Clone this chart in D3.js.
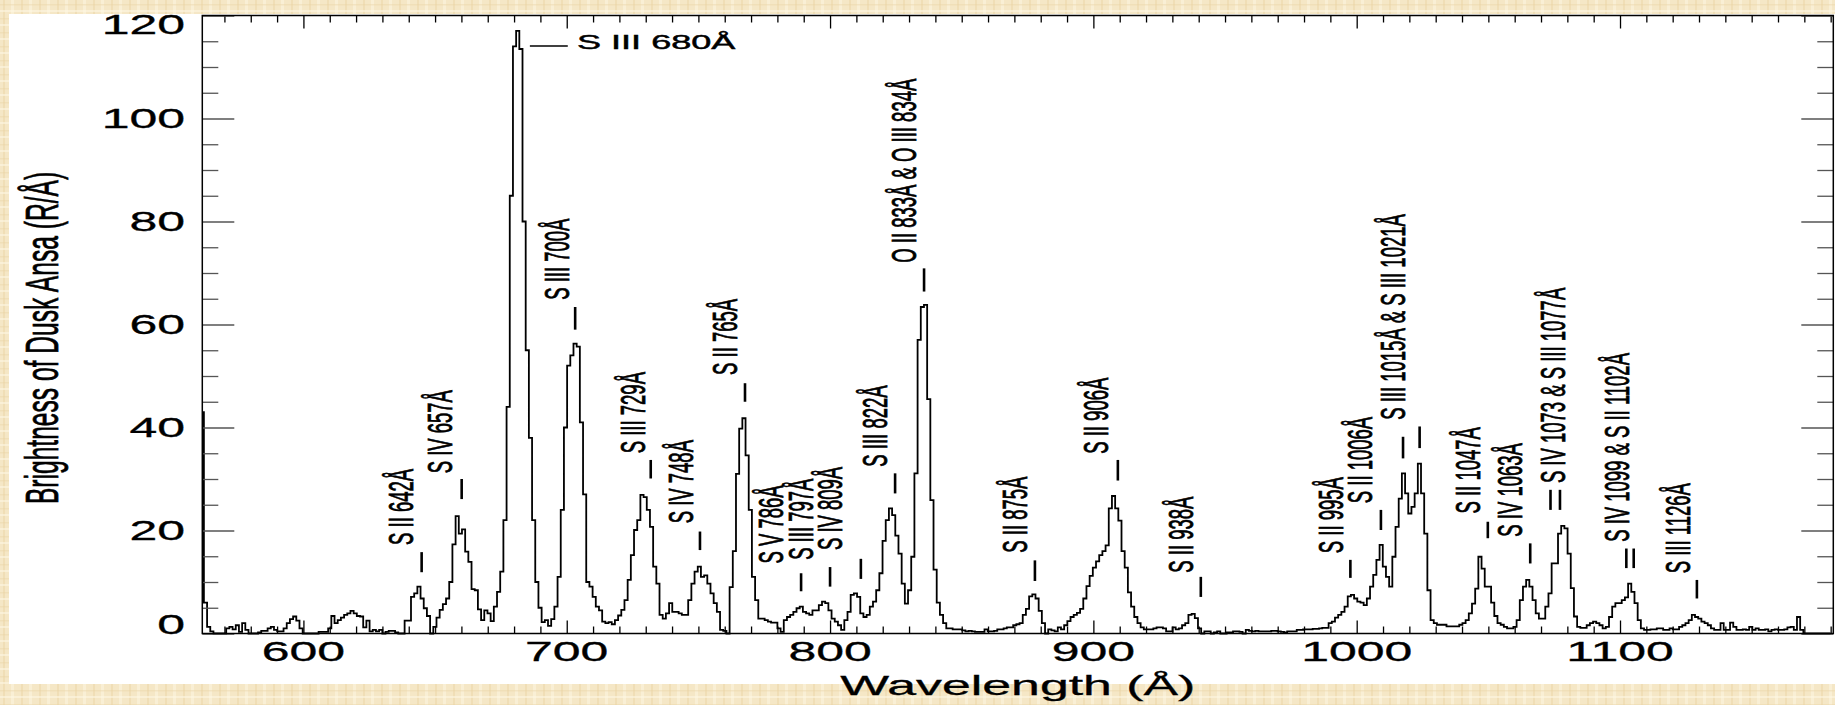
<!DOCTYPE html>
<html><head><meta charset="utf-8">
<script src="https://cdn.jsdelivr.net/npm/d3@7"></script>
<style>
html,body{margin:0;padding:0;background:#f5e8c8;}
svg{display:block;}
text{font-family:"Liberation Sans",Arial,Helvetica,sans-serif;fill:#000;}
</style></head><body>
<svg id="chart" width="1835" height="705"></svg>
<script>
// ---- spectrum: EUV brightness of the dusk ansa, one value per 1.21 Å bin ----
const waveStart = 561.6;   // Å, first bin
const waveStep = 1.21;     // Å per bin
const brightness = [
  43, 6.0, 1.3, 0.4, 0, 0, 0, 0, 1.0, 1.3,
  0.8, 1.6, 0.3, 2.0, 0.7, 0, 0, 0, 0.2, 0.5,
  0.5, 1.0, 1.3, 0.7, 0.4, 0.4, 1.0, 2.0, 2.8, 3.3,
  2.5, 1.0, 0, 0, 0, 0, 0, 0.3, 0.3, 0.3,
  1.0, 3.4, 2.0, 2.6, 3.1, 3.6, 3.9, 4.4, 3.9, 3.4,
  3.3, 1.2, 2.5, 0.4, 0.7, 0.4, 0.7, 0, 0.3, 0.5,
  0.5, 0.2, 0, 0, 2.5, 2.5, 7.1, 7.8, 9.1, 6.8,
  4.9, 3.4, 0, 1.3, 3.1, 4.6, 5.7, 6.8, 10, 17.3,
  22.8, 19.4, 20.2, 15.9, 13.9, 8.6, 8.4, 4.7, 2.6, 4.5,
  3.9, 2.4, 5.2, 8.1, 12, 22, 44, 85, 114, 117,
  113.5, 80, 55, 38, 22, 10, 5, 2.2, 2.6, 1.5,
  2.8, 5.2, 11, 24, 40, 52, 54, 56.3, 55.7, 41,
  27, 10, 9.1, 7.1, 5.2, 4.5, 2.3, 2.0, 2.2, 1.8,
  2.6, 3.5, 4.6, 6.5, 10.4, 15.2, 20.1, 22, 26.9, 26.5,
  24, 20.7, 13, 9.7, 3.6, 2.9, 3.9, 5.9, 4.2, 4.2,
  3.9, 3.6, 3.6, 6.5, 9.7, 12, 13, 11, 11.3, 9.7,
  7.8, 5.9, 4.2, 0.7, 0.5, 0, 9, 16, 31, 39.8,
  41.8, 34.6, 24, 11, 6.5, 2.9, 2.9, 2.6, 2.3, 2.1,
  2.1, 1.0, 0.3, 2.6, 3.2, 3.6, 4.2, 4.9, 5.2, 4.2,
  3.9, 3.6, 4.5, 4.5, 5.5, 6.2, 5.9, 4.5, 2.9, 2.3,
  1.6, 0.7, 2.6, 4.2, 7.5, 7.8, 7.1, 3.9, 3.2, 3.6,
  5.2, 6.2, 8.4, 11.7, 18, 22, 24.3, 23, 19, 15.5,
  9.7, 5.8, 8.4, 14.9, 31.1, 57, 63.4, 63.8, 45.5, 25.9,
  12.4, 6, 3.6, 2.0, 1.0, 1.0, 0.8, 0.8, 0.8, 0.6,
  0.4, 0.5, 0.4, 0.3, 0.3, 0.3, 0.8, 0.4, 0.4, 0.5,
  0.8, 0.8, 1.0, 1.2, 1.2, 1.6, 1.8, 2.0, 3.6, 4.8,
  7.2, 7.6, 6.8, 4.4, 2.0, 0, 0.8, 0.6, 0.4, 1.2,
  0.8, 1.6, 2.4, 3.2, 3.6, 4.0, 4.8, 6.8, 9.2, 11.2,
  12.8, 14, 15.2, 16, 17.1, 24.3, 26.7, 24.3, 21.9, 16,
  12.8, 8, 5.2, 3.2, 2.0, 1.2, 0.8, 0.8, 0.8, 1.0,
  1.2, 1.2, 1.0, 0.4, 0.4, 1.2, 0.8, 1.0, 1.6, 2.0,
  3.6, 3.8, 3.0, 1.0, 0, 0.4, 0.4, 0, 0.2, 0.4,
  0, 0, 0.2, 0.2, 0.4, 0.4, 0.3, 0, 0.7, 0.5,
  0.4, 0.5, 0.4, 0.4, 0.4, 0.4, 0.5, 0.5, 0.4, 0.3,
  0.2, 0.4, 0.4, 0.4, 0.7, 0.7, 0.8, 0.8, 0.8, 0.9,
  0.9, 1.0, 1.1, 1.1, 2.0, 2.3, 3.1, 3.6, 4.2, 5.2,
  7.2, 7.5, 6.8, 6.2, 6.0, 5.5, 6.8, 9.1, 11.4, 14.3,
  17.2, 13, 11, 9.1, 14.9, 20.7, 26.2, 31.1, 27.2, 23.3,
  24.6, 27.2, 33, 27.2, 19.4, 8.4, 2.6, 2.0, 1.7, 1.7,
  1.7, 1.4, 1.4, 1.4, 1.4, 1.7, 2.0, 2.6, 3.9, 5.8,
  8.7, 14.9, 12.6, 9.1, 9.1, 6.0, 3.4, 2.0, 1.7, 1.3,
  1.0, 1.0, 1.3, 2.6, 6.5, 9.1, 10.4, 9.1, 6.5, 3.9,
  2.9, 2.9, 5.2, 7.8, 13.6, 13.6, 19.4, 20.9, 20.4, 15.5,
  8.8, 3.3, 1.3, 1.1, 1.1, 1.6, 2.0, 2.3, 2.0, 1.6,
  1.0, 1.3, 3.2, 5.2, 5.9, 5.9, 6.5, 7.0, 9.7, 8.1,
  5.9, 2.6, 1.0, 0.7, 0.7, 0.8, 0.8, 1.0, 1.0, 0.7,
  0.7, 1.0, 0.8, 0.8, 1.3, 1.6, 2.0, 2.6, 3.6, 3.2,
  2.9, 2.3, 2.0, 1.6, 1.0, 0.7, 0.7, 2.0, 0.7, 0.7,
  2.1, 1.3, 0.7, 0.7, 0.8, 0.7, 1.3, 0.7, 1.0, 0.7,
  0.7, 0.8, 0.4, 0.7, 0.8, 0.7, 0.7, 0.8, 1.2, 1.3,
  0.7, 3.2, 0.7, 0, 0, 0, 0, 0, 0, 0,
  0, 0
];

// ---- axes ----
const xDomain = [561.6, 1181.0];
const yDomain = [0, 120];
const xTickValues = [600, 700, 800, 900, 1000, 1100];
const yTickValues = [0, 20, 40, 60, 80, 100, 120];
const xTitle = "Wavelength (\u00C5)";
const yTitle = "Brightness of Dusk Ansa (R/\u00C5)";

// ---- line identifications ----
// marks: wavelength(s) of the marker bars; from/to: brightness span of the bars;
// at: wavelength of the text baseline; start: brightness where the text begins
const lineIds = [
  {text: "S II 642\u00C5",  marks: [644.9],  from: 11.9, to: 15.8, at: 641.6, start: 17.2},
  {text: "S IV 657\u00C5",  marks: [660.1],  from: 26.1, to: 30.0, at: 656.4, start: 31.1},
  {text: "S III 700\u00C5", marks: [703.2],  from: 59.0, to: 63.4, at: 700.8, start: 64.8},
  {text: "S III 729\u00C5", marks: [731.9],  from: 30.1, to: 33.7, at: 729.8, start: 35.0},
  {text: "S IV 748\u00C5",  marks: [750.6],  from: 16.2, to: 19.8, at: 747.9, start: 21.4},
  {text: "S II 765\u00C5",  marks: [767.7],  from: 45.0, to: 48.6, at: 764.6, start: 50.2},
  {text: "S V 786\u00C5",   marks: [789.0],  from: 8.2,  to: 11.7, at: 782.1, start: 13.6},
  {text: "S III 797\u00C5", marks: [800.0],  from: 9.1,  to: 12.9, at: 793.5, start: 14.3},
  {text: "S IV 809\u00C5",  marks: [811.7],  from: 10.6, to: 14.5, at: 804.4, start: 16.2},
  {text: "S III 822\u00C5", marks: [824.7],  from: 27.2, to: 31.1, at: 821.5, start: 32.4},
  {text: "O II 833\u00C5 & O III 834\u00C5", marks: [835.7], from: 66.4, to: 70.9, at: 832.6, start: 72.0},
  {text: "S II 875\u00C5",  marks: [877.8],  from: 10.2, to: 14.2, at: 874.7, start: 15.7},
  {text: "S II 906\u00C5",  marks: [909.3],  from: 29.7, to: 33.7, at: 905.6, start: 34.9},
  {text: "S II 938\u00C5",  marks: [940.8],  from: 7.1,  to: 11.0, at: 937.9, start: 11.8},
  {text: "S II 995\u00C5",  marks: [997.6],  from: 10.8, to: 14.3, at: 994.9, start: 15.6},
  {text: "S II 1006\u00C5", marks: [1009.2], from: 20.1, to: 24.0, at: 1005.7, start: 25.3},
  {text: "S III 1015\u00C5 & S III 1021\u00C5", marks: [1017.6, 1023.9], from: [34.0, 36.0], to: [38.2, 40.2], at: 1018.4, start: 41.5},
  {text: "S II 1047\u00C5", marks: [1049.8], from: 18.5, to: 21.7, at: 1046.9, start: 23.3},
  {text: "S IV 1063\u00C5", marks: [1065.9], from: 13.6, to: 17.5, at: 1062.7, start: 18.8},
  {text: "S IV 1073 & S III 1077\u00C5", marks: [1073.6, 1077.2], from: 24.0, to: 27.9, at: 1079.2, start: 29.2},
  {text: "S IV 1099 & S II 1102\u00C5", marks: [1102.4, 1105.2], from: 12.7, to: 16.5, at: 1103.3, start: 17.8},
  {text: "S III 1126\u00C5", marks: [1129.2], from: 6.8, to: 10.4, at: 1126.6, start: 11.7}
];
// the strongest line is named beside its peak
const topLine = {text: "S III 680\u00C5", lineFrom: 686.0, lineTo: 700.4, level: 114.1, at: 703.9, base: 113.5};

// ---- layout ----
const W = 1835, H = 705;
const plot = {left: 202.3, right: 1833.3, top: 15.5, bottom: 633.5};
const SX = 1.85;            // horizontal stretch of the lettering

const svg = d3.select("#chart");

// parchment backdrop
const defs = svg.append("defs");
const pat = defs.append("pattern").attr("id", "parch").attr("patternUnits", "userSpaceOnUse")
  .attr("width", 18).attr("height", 14);
pat.append("rect").attr("width", 18).attr("height", 14).attr("fill", "#f5e7c6");
pat.append("rect").attr("x", 3).attr("width", 2).attr("height", 14).attr("fill", "#ebd6a6").attr("opacity", 0.5);
pat.append("rect").attr("x", 11).attr("width", 3).attr("height", 14).attr("fill", "#fcf3dc").attr("opacity", 0.7);
pat.append("rect").attr("y", 4).attr("width", 18).attr("height", 1.5).attr("fill", "#e8d3a2").attr("opacity", 0.4);
pat.append("rect").attr("y", 10).attr("width", 18).attr("height", 2).attr("fill", "#fdf6e2").attr("opacity", 0.6);
svg.append("rect").attr("width", W).attr("height", H).attr("fill", "url(#parch)");

// white sheet carrying the plot
svg.append("rect").attr("x", 9).attr("y", 14).attr("width", W - 9).attr("height", 670).attr("fill", "#fff");

const x = d3.scaleLinear().domain(xDomain).range([plot.left, plot.right]);
const y = d3.scaleLinear().domain(yDomain).range([plot.bottom, plot.top]);

const spectrum = brightness.map((v, i) => ({w: waveStart + i * waveStep, v}));

svg.append("path")
  .datum(spectrum)
  .attr("fill", "none")
  .attr("stroke", "#000")
  .attr("stroke-width", 1.8)
  .attr("stroke-linejoin", "miter")
  .attr("d", d3.line().x(d => x(d.w)).y(d => y(d.v)).curve(d3.curveStep));

// ticks (all pointing into the frame)
const xMinor = d3.range(570, 1181, 10).filter(t => t % 100 !== 0);
const yMinor = d3.range(5, 120, 5).filter(t => t % 20 !== 0);

function tickLayer(axisGen, tx, ty) {
  const g = svg.append("g").attr("transform", `translate(${tx},${ty})`).call(axisGen);
  g.select(".domain").remove();
  g.selectAll("line").attr("stroke", "#000").attr("stroke-width", 1.3);
  g.selectAll("text").remove();
  return g;
}
tickLayer(d3.axisBottom(x).tickValues(xTickValues).tickSize(-13).tickFormat(""), 0, plot.bottom);
tickLayer(d3.axisBottom(x).tickValues(xMinor).tickSize(-7).tickFormat(""), 0, plot.bottom);
tickLayer(d3.axisTop(x).tickValues(xTickValues).tickSize(-13).tickFormat(""), 0, plot.top);
tickLayer(d3.axisTop(x).tickValues(xMinor).tickSize(-7).tickFormat(""), 0, plot.top);
tickLayer(d3.axisLeft(y).tickValues(yTickValues).tickSize(-32).tickFormat(""), plot.left, 0)
  .selectAll("line").attr("stroke", "#555");
tickLayer(d3.axisLeft(y).tickValues(yMinor).tickSize(-16).tickFormat(""), plot.left, 0)
  .selectAll("line").attr("stroke", "#555");
tickLayer(d3.axisRight(y).tickValues(yTickValues).tickSize(-32).tickFormat(""), plot.right, 0)
  .selectAll("line").attr("stroke", "#555");
tickLayer(d3.axisRight(y).tickValues(yMinor).tickSize(-16).tickFormat(""), plot.right, 0)
  .selectAll("line").attr("stroke", "#555");

// frame
svg.append("rect")
  .attr("x", plot.left).attr("y", plot.top)
  .attr("width", plot.right - plot.left).attr("height", plot.bottom - plot.top)
  .attr("fill", "none").attr("stroke", "#000").attr("stroke-width", 1.5);

// stretched lettering helper
function label(px, py, str, size, opts = {}) {
  const rot = opts.rotate ? " rotate(-90)" : "";
  return svg.append("text")
    .attr("transform", `translate(${px},${py}) scale(${SX},1)${rot}`)
    .attr("text-anchor", opts.anchor || "start")
    .attr("stroke", "#000")
    .attr("stroke-width", opts.weight || 0.45)
    .style("font-size", size + "px")
    .text(str);
}

// tick labels
const tickFont = 27;
xTickValues.forEach(t => label(x(t), 660.5, String(t), tickFont, {anchor: "middle", weight: 0.3}));
yTickValues.forEach(t => {
  let cy = y(t);
  if (t === 0) cy -= 9;
  if (t === 120) cy += 8.5;
  label(185, cy + 9.7, String(t), tickFont, {anchor: "end", weight: 0.3});
});

// axis titles
label(x(d3.mean(xDomain)), 695, xTitle, 28, {anchor: "middle", weight: 0.3});
label(58, 338, yTitle, 24.6, {anchor: "middle", rotate: true, weight: 0.4});

// line identifications
const idFont = 18.5;
lineIds.forEach(d => {
  d.marks.forEach((m, k) => {
    const lo = Array.isArray(d.from) ? d.from[k] : d.from;
    const hi = Array.isArray(d.to) ? d.to[k] : d.to;
    svg.append("line")
      .attr("x1", x(m)).attr("x2", x(m))
      .attr("y1", y(lo)).attr("y2", y(hi))
      .attr("stroke", "#000").attr("stroke-width", 2.6);
  });
  label(x(d.at), y(d.start), d.text, idFont, {rotate: true});
});

svg.append("line")
  .attr("x1", x(topLine.lineFrom)).attr("x2", x(topLine.lineTo))
  .attr("y1", y(topLine.level)).attr("y2", y(topLine.level))
  .attr("stroke", "#000").attr("stroke-width", 1.5);
label(x(topLine.at), y(topLine.base), topLine.text, 19.5, {weight: 0.45});
</script>
</body></html>
